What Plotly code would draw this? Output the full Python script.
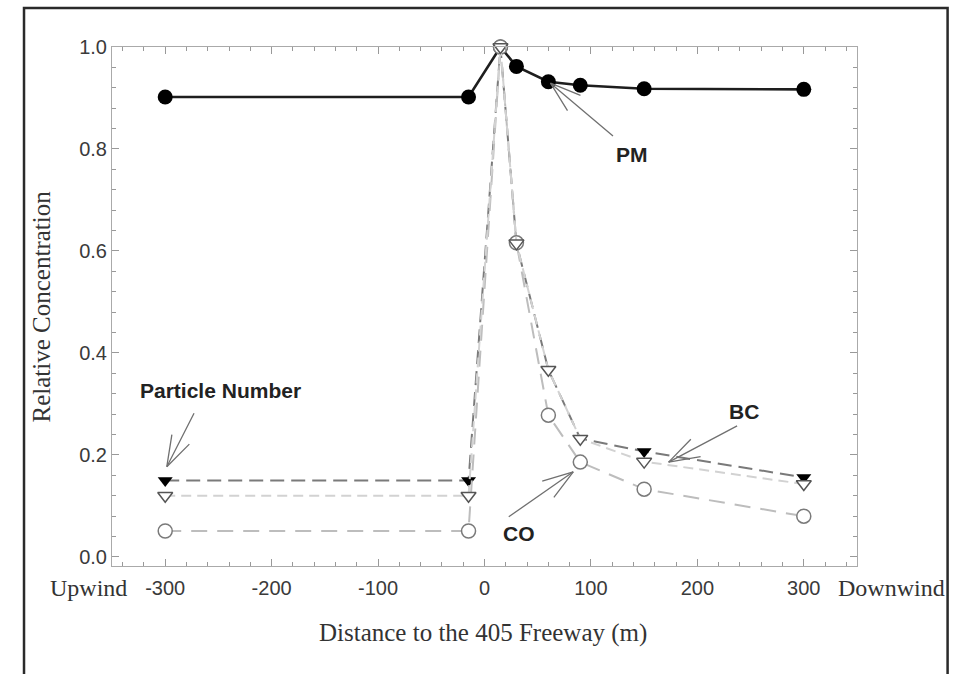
import math
import plotly.graph_objects as go

# ---- data ----
distance = [-300, -15, 15, 30, 60, 90, 150, 300]
pm = [0.902, 0.902, 1.0, 0.962, 0.932, 0.925, 0.918, 0.917]
particle_number = [0.150, 0.150, 1.0, 0.615, 0.367, 0.232, 0.207, 0.156]
bc = [0.120, 0.120, 1.0, 0.615, 0.367, 0.232, 0.187, 0.143]
co = [0.051, 0.051, 1.0, 0.616, 0.278, 0.186, 0.133, 0.080]

x_ticks = [-300, -200, -100, 0, 100, 200, 300]
x_tick_text = ["-300", "-200", "-100", "0", "100", "200", "300"]
y_ticks = [0.0, 0.2, 0.4, 0.6, 0.8, 1.0]
y_tick_text = ["0.0", "0.2", "0.4", "0.6", "0.8", "1.0"]

fig = go.Figure()

fig.add_trace(go.Scatter(
    x=distance, y=pm, mode="lines+markers", name="PM",
    line=dict(color="#1e1e1e", width=2.6),
    marker=dict(symbol="circle", size=15, color="#000000"),
    cliponaxis=False))
fig.add_trace(go.Scatter(
    x=distance, y=particle_number, mode="lines+markers", name="Particle Number",
    line=dict(color="#7a7a7a", width=2, dash="14px,7px"),
    marker=dict(symbol="triangle-down", size=13, color="#000000"),
    cliponaxis=False))
fig.add_trace(go.Scatter(
    x=distance, y=co, mode="lines+markers", name="CO",
    line=dict(color="#bdbdbd", width=2, dash="16px,10px"),
    marker=dict(symbol="circle", size=14, color="#ffffff",
                line=dict(color="#7a7a7a", width=1.5)),
    cliponaxis=False))
fig.add_trace(go.Scatter(
    x=distance, y=bc, mode="lines+markers", name="BC",
    line=dict(color="#d2d2d2", width=2, dash="10px,6px"),
    marker=dict(symbol="triangle-down", size=13, color="#ffffff",
                line=dict(color="#555555", width=1.5)),
    cliponaxis=False))

label_font = dict(family="Liberation Sans, Arial, sans-serif", size=21, color="#222222")

# text labels
for txt, x, y in [("PM", 139, 0.79), ("Particle Number", -248, 0.326),
                  ("BC", 244, 0.285), ("CO", 32.6, 0.047)]:
    fig.add_annotation(x=x, y=y, text="<b>%s</b>" % txt, showarrow=False,
                       font=label_font, xanchor="center", yanchor="middle")

# arrows: tip at (x, y), shaft tail offset (ax, ay) in px, plus two long barbs
arrow_color = "#707070"
barb_len = 34
barb_angle = math.radians(18)
for x, y, ax, ay in [(62, 0.929, 64, 54), (-298.5, 0.177, 28, -55),
                     (173, 0.186, 70, -37), (83.4, 0.167, -66, 46)]:
    fig.add_annotation(x=x, y=y, ax=ax, ay=ay, text="", showarrow=True,
                       arrowhead=0, arrowwidth=1.3, arrowcolor=arrow_color,
                       standoff=0, startstandoff=0)
    n = math.hypot(ax, ay)
    ux, uy = ax / n, ay / n
    for s in (1, -1):
        c, sn = math.cos(s * barb_angle), math.sin(s * barb_angle)
        bx = (ux * c - uy * sn) * barb_len
        by = (ux * sn + uy * c) * barb_len
        fig.add_annotation(x=x, y=y, ax=bx, ay=by, text="", showarrow=True,
                           arrowhead=0, arrowwidth=1.3, arrowcolor=arrow_color,
                           standoff=0, startstandoff=0)

serif = "Liberation Serif, Times New Roman, serif"
serif_font = dict(family=serif, size=24, color="#333333")
fig.add_annotation(xref="paper", yref="paper", x=-0.0322, y=-0.0424,
                   text="Upwind", showarrow=False, font=serif_font,
                   xanchor="center", yanchor="middle")
fig.add_annotation(xref="paper", yref="paper", x=1.0465, y=-0.0424,
                   text="Downwind", showarrow=False, font=serif_font,
                   xanchor="center", yanchor="middle")
fig.add_annotation(xref="paper", yref="paper", x=0.4975, y=-0.129,
                   text="Distance to the 405 Freeway (m)", showarrow=False,
                   font=dict(family=serif, size=25, color="#333333"),
                   xanchor="center", yanchor="middle")
fig.add_annotation(xref="paper", yref="paper", x=-0.094, y=0.5,
                   text="Relative Concentration", showarrow=False, textangle=-90,
                   font=dict(family=serif, size=25, color="#333333"),
                   xanchor="center", yanchor="middle")

# outer frame
fig.add_shape(type="rect", xref="paper", yref="paper",
              x0=-0.1181, x1=1.1216, y0=-0.25, y1=1.0751,
              line=dict(color="#2a2a2a", width=2.5), layer="above")

fig.update_xaxes(
    range=[-350, 350], tickvals=x_ticks, ticktext=x_tick_text,
    ticks="inside", ticklen=7, ticklabelstandoff=4,
    tickcolor="#999999", linecolor="#aaaaaa", linewidth=1, mirror="ticks",
    showline=True, showgrid=False, zeroline=False,
    tickfont=dict(family="Liberation Sans, Arial", size=20, color="#3a3a3a"),
    minor=dict(dtick=20, tick0=0, ticks="inside", ticklen=4, tickcolor="#999999"))
fig.update_yaxes(
    range=[-0.0177, 1.0], tickvals=y_ticks, ticktext=y_tick_text,
    ticks="inside", ticklen=7, tickcolor="#999999", linecolor="#aaaaaa",
    linewidth=1, mirror="ticks", showline=True, showgrid=False, zeroline=False,
    tickfont=dict(family="Liberation Sans, Arial", size=20, color="#3a3a3a"),
    minor=dict(dtick=0.04, tick0=0, ticks="inside", ticklen=4, tickcolor="#999999"))

fig.update_layout(
    width=953, height=674, showlegend=False,
    margin=dict(l=112, r=96, t=47, b=108),
    paper_bgcolor="white", plot_bgcolor="white")

fig.write_html("out.html", config={"displayModeBar": False},
               post_script="document.body.style.margin='0px';document.body.style.overflow='hidden';")
